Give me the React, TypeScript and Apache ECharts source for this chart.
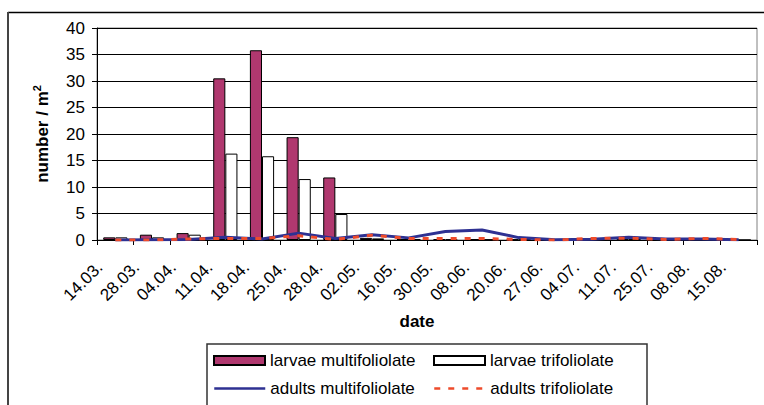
import React, { useEffect, useRef } from 'react';
import * as echarts from 'echarts';

const categories = ['14.03.', '28.03.', '04.04.', '11.04.', '18.04.', '25.04.', '28.04.', '02.05.', '16.05.', '30.05.', '08.06.', '20.06.', '27.06.', '04.07.', '11.07.', '25.07.', '08.08.', '15.08.'];
const larvaeMulti = [0.5, 1.0, 1.3, 30.5, 35.8, 19.4, 11.8, 0.4, 0.2, 0.15, 0.15, 0.1, 0, 0.05, 0.1, 0.05, 0.05, 0];
const larvaeTri = [0.5, 0.5, 1.0, 16.3, 15.8, 11.5, 4.9, 0.3, 0.2, 0.1, 0.1, 0.05, 0, 0.05, 0.1, 0.05, 0.05, 0];
const adultsMulti = [0.0, 0.05, 0.1, 0.5, 0.2, 1.3, 0.3, 1.0, 0.4, 1.6, 1.9, 0.45, 0.05, 0.15, 0.5, 0.2, 0.2, 0.05];
const adultsTri = [0, 0, 0.2, 0.3, 0.3, 0.8, 0.1, 0.9, 0.3, 0.3, 0.3, 0.1, 0, 0.3, 0.35, 0.1, 0.3, 0.1];

const FONT = '"Liberation Sans", Arial, sans-serif';
const FS = 17;

export default function App() {
  const ref = useRef<HTMLDivElement>(null);
  useEffect(() => {
    const chart = echarts.init(ref.current!, null, { renderer: 'svg' });
    const legendCommon = {
      padding: 0,
      itemWidth: 51,
      itemHeight: 9,
      selectedMode: false,
      textStyle: { fontFamily: FONT, fontSize: FS, color: '#000' },
    };
    chart.setOption({
      animation: false,
      backgroundColor: '#fff',
      textStyle: { fontFamily: FONT },
      grid: { left: 97, top: 28, width: 660, height: 212, show: true, borderColor: '#808080', borderWidth: 1, containLabel: false },
      legend: [
        { ...legendCommon, icon: 'rect', data: ['larvae multifoliolate'], left: 213, top: 352 },
        { ...legendCommon, icon: 'rect', data: ['larvae trifoliolate'], left: 433, top: 352 },
        { ...legendCommon, data: ['adults multifoliolate'], left: 213, top: 380, itemStyle: { opacity: 0 }, lineStyle: { width: 2.5 } },
        { ...legendCommon, data: ['adults trifoliolate'], left: 433, top: 380, itemStyle: { opacity: 0 }, lineStyle: { width: 2.5 } },
      ],
      xAxis: {
        type: 'category',
        data: categories,
        boundaryGap: true,
        name: 'date',
        nameLocation: 'middle',
        nameGap: 73,
        nameTextStyle: { fontFamily: FONT, fontSize: FS, fontWeight: 'bold', color: '#000', padding: [0, 20, 0, 0] },
        axisLine: { lineStyle: { color: '#000', width: 1 } },
        axisTick: { show: true, inside: false, length: 5, lineStyle: { color: '#000' } },
        axisLabel: { rotate: 45, interval: 0, margin: 9, fontFamily: FONT, fontSize: FS, color: '#000', padding: [0, 22, 0, 0] },
      },
      yAxis: {
        type: 'value',
        min: 0,
        max: 40,
        interval: 5,
        name: '{a|number / m}{b|2}',
        nameLocation: 'middle',
        nameRotate: 90,
        nameGap: 46,
        nameTextStyle: {
          rich: {
            a: { fontFamily: FONT, fontSize: FS, fontWeight: 'bold', color: '#000', lineHeight: 20, verticalAlign: 'bottom' },
            b: { fontFamily: FONT, fontSize: 11, fontWeight: 'bold', color: '#000', lineHeight: 12, verticalAlign: 'top' },
          },
        },
        axisLine: { show: true, lineStyle: { color: '#000', width: 1 } },
        axisTick: { show: true, inside: false, length: 5, lineStyle: { color: '#000' } },
        axisLabel: { margin: 12, fontFamily: FONT, fontSize: FS, color: '#000' },
        splitLine: { show: true, lineStyle: { color: '#000', width: 1 } },
      },
      series: [
        {
          name: 'larvae multifoliolate',
          type: 'bar',
          data: larvaeMulti,
          barGap: '0%',
          barCategoryGap: '34%',
          itemStyle: { color: '#B0386F', borderColor: '#000', borderWidth: 1 },
          z: 2,
        },
        {
          name: 'larvae trifoliolate',
          type: 'bar',
          data: larvaeTri,
          itemStyle: { color: '#fff', borderColor: '#000', borderWidth: 1 },
          z: 2,
        },
        {
          name: 'adults multifoliolate',
          type: 'line',
          data: adultsMulti,
          symbol: 'none',
          lineStyle: { color: '#2E3192', width: 3 },
          itemStyle: { color: '#2E3192' },
          z: 3,
        },
        {
          name: 'adults trifoliolate',
          type: 'line',
          data: adultsTri,
          symbol: 'none',
          lineStyle: { color: '#EE4B2B', width: 3, type: [6, 8] },
          itemStyle: { color: '#EE4B2B' },
          z: 4,
        },
      ],
      graphic: [
        { type: 'line', shape: { x1: 8, y1: 12.5, x2: 764, y2: 12.5 }, style: { stroke: '#000', lineWidth: 1.5 }, silent: true },
        { type: 'line', shape: { x1: 8, y1: 12, x2: 8, y2: 405 }, style: { stroke: '#444', lineWidth: 2 }, silent: true },
        { type: 'rect', shape: { x: 207, y: 344, width: 440, height: 80 }, style: { fill: 'none', stroke: '#333', lineWidth: 1.5 }, silent: true, z: -1 },
      ],
    });
    return () => chart.dispose();
  }, []);
  return <div ref={ref} style={{ position: 'absolute', left: 0, top: 0, width: 764, height: 405, background: '#fff' }} />;
}
